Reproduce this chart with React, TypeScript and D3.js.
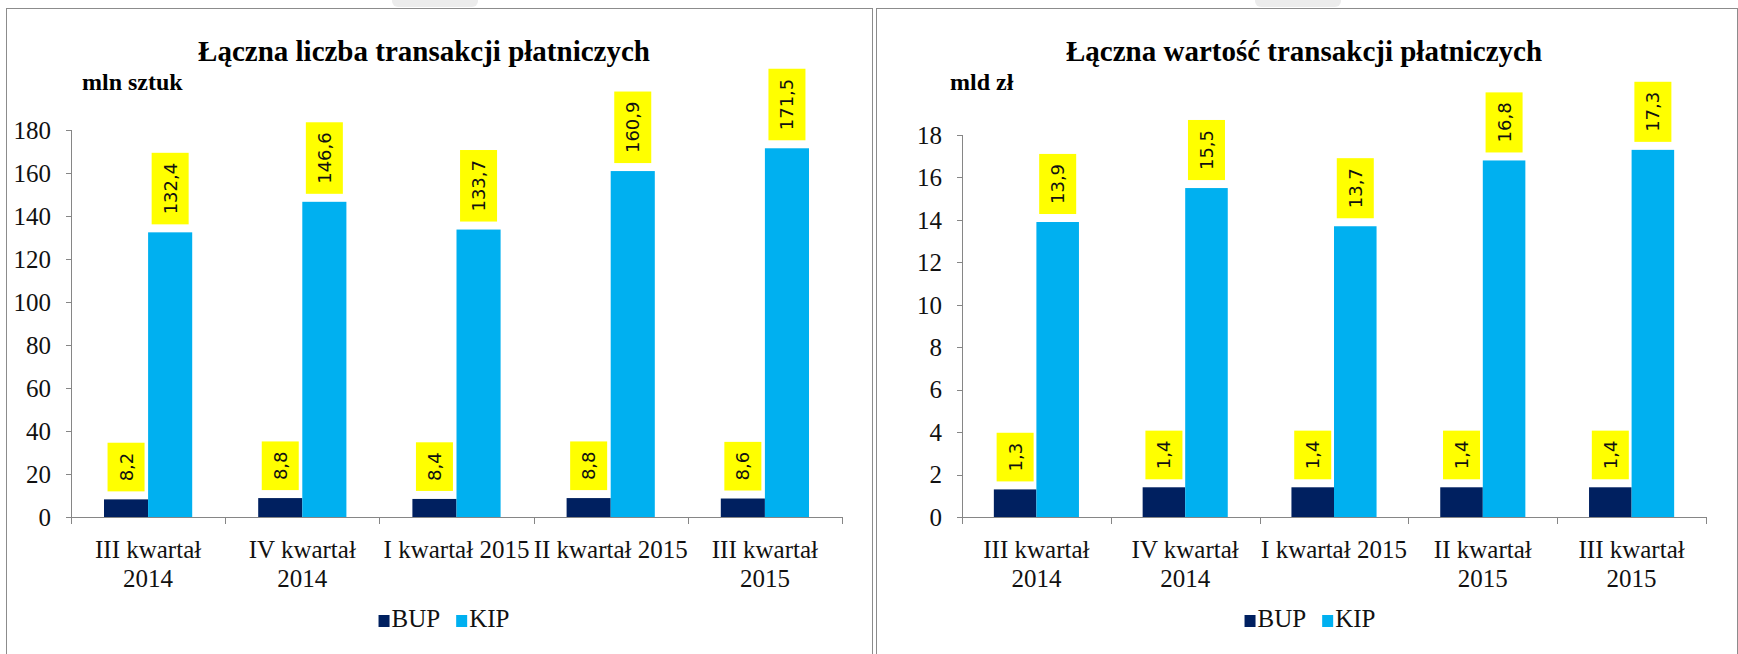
import React, { useRef, useEffect } from 'react'
import * as d3 from 'd3'

// categories and series
const quarters = ['III kwartał 2014', 'IV kwartał 2014', 'I kwartał 2015', 'II kwartał 2015', 'III kwartał 2015']
const seriesNames = ['BUP', 'KIP']
const seriesColors = ['#002060', '#00B0F0']

// left chart: number of transactions (mln sztuk)
const countBUP = [8.2, 8.8, 8.4, 8.8, 8.6]
const countKIP = [132.4, 146.6, 133.7, 160.9, 171.5]
const countTicks = [0, 20, 40, 60, 80, 100, 120, 140, 160, 180]

// right chart: value of transactions (mld zł)
const valueBUP = [1.3, 1.4, 1.4, 1.4, 1.4]
const valueKIP = [13.9, 15.5, 13.7, 16.8, 17.3]
const valueTicks = [0, 2, 4, 6, 8, 10, 12, 14, 16, 18]

const W = 1738
const H = 654
const serif = '"Liberation Serif", "Times New Roman", serif'
const labelFont = '"DejaVu Sans", sans-serif'

type ChartCfg = {
  title: string
  unit: string
  series: number[][]
  ticks: number[]
  box: [number, number, number] // left, top, right
  titleX: number
  unitX: number
  x0: number
  x1: number
  yTop: number
  legendX: number
}

const charts: ChartCfg[] = [
  {
    title: 'Łączna liczba transakcji płatniczych',
    unit: 'mln sztuk',
    series: [countBUP, countKIP],
    ticks: countTicks,
    box: [6.5, 8.5, 872.5],
    titleX: 424,
    unitX: 82,
    x0: 71,
    x1: 842,
    yTop: 130,
    legendX: 444,
  },
  {
    title: 'Łączna wartość transakcji płatniczych',
    unit: 'mld zł',
    series: [valueBUP, valueKIP],
    ticks: valueTicks,
    box: [876.5, 8.5, 1737.5],
    titleX: 1304,
    unitX: 950,
    x0: 962,
    x1: 1706,
    yTop: 135,
    legendX: 1310,
  },
]

const fmt = (v: number) => v.toFixed(1).replace('.', ',')

function drawChart(svg: d3.Selection<SVGSVGElement, unknown, null, undefined>, cfg: ChartCfg) {
  const yBase = 517
  const g = svg.append('g')

  //frame of the chart
  const [bl, bt, br] = cfg.box
  g.append('rect')
    .attr('x', bl)
    .attr('y', bt)
    .attr('width', br - bl)
    .attr('height', H + 10)
    .attr('fill', '#fff')
    .attr('stroke', '#8c8c8c')

  //title + unit
  g.append('text')
    .attr('x', cfg.titleX)
    .attr('y', 61)
    .attr('text-anchor', 'middle')
    .attr('font-family', serif)
    .attr('font-weight', 'bold')
    .attr('font-size', 29)
    .text(cfg.title)
  g.append('text')
    .attr('x', cfg.unitX)
    .attr('y', 90)
    .attr('font-family', serif)
    .attr('font-weight', 'bold')
    .attr('font-size', 24)
    .text(cfg.unit)

  //scales
  const maxTick = cfg.ticks[cfg.ticks.length - 1]
  const y = d3.scaleLinear().domain([0, maxTick]).range([yBase, cfg.yTop])
  const x = d3.scaleBand<string>().domain(quarters).range([cfg.x0, cfg.x1]).padding(0)
  const bw = x.bandwidth()
  const barW = bw * 0.286
  const xs = d3
    .scaleBand<string>()
    .domain(seriesNames)
    .range([bw / 2 - barW, bw / 2 + barW])

  //bars
  seriesNames.forEach((name, si) => {
    g.append('g')
      .selectAll('rect')
      .data(cfg.series[si])
      .join('rect')
      .attr('x', (d, i) => (x(quarters[i]) as number) + (xs(name) as number))
      .attr('y', (d) => y(d))
      .attr('width', xs.bandwidth())
      .attr('height', (d) => yBase - y(d))
      .attr('fill', seriesColors[si])
  })

  //y axis
  const axisColor = '#868686'
  g.append('line')
    .attr('x1', cfg.x0 + 0.5)
    .attr('x2', cfg.x0 + 0.5)
    .attr('y1', y(maxTick))
    .attr('y2', yBase)
    .attr('stroke', axisColor)
  const yt = g.append('g').selectAll('g').data(cfg.ticks).join('g')
  yt.append('line')
    .attr('x1', cfg.x0 - 5)
    .attr('x2', cfg.x0 + 0.5)
    .attr('y1', (d) => Math.round(y(d)) + 0.5)
    .attr('y2', (d) => Math.round(y(d)) + 0.5)
    .attr('stroke', axisColor)
  yt.append('text')
    .attr('x', cfg.x0 - 20)
    .attr('y', (d) => y(d))
    .attr('dy', '0.35em')
    .attr('text-anchor', 'end')
    .attr('font-family', serif)
    .attr('font-size', 25)
    .attr('fill', '#111')
    .text((d) => String(d))

  //x axis
  g.append('line')
    .attr('x1', cfg.x0)
    .attr('x2', cfg.x1)
    .attr('y1', yBase + 0.5)
    .attr('y2', yBase + 0.5)
    .attr('stroke', axisColor)
  const bounds = quarters.map((q) => x(q) as number).concat([cfg.x1])
  g.append('g')
    .selectAll('line')
    .data(bounds)
    .join('line')
    .attr('x1', (d) => Math.round(d) + 0.5)
    .attr('x2', (d) => Math.round(d) + 0.5)
    .attr('y1', yBase)
    .attr('y2', yBase + 7)
    .attr('stroke', axisColor)

  //category labels, wrapped when wider than the band
  quarters.forEach((q) => {
    const cx = (x(q) as number) + bw / 2
    const t = g
      .append('text')
      .attr('x', cx)
      .attr('y', yBase + 41)
      .attr('text-anchor', 'middle')
      .attr('font-family', serif)
      .attr('font-size', 25)
      .attr('fill', '#111')
      .text(q)
    const len = (t.node() as SVGTextElement).getComputedTextLength()
    if (len > bw + 3) {
      const cut = q.lastIndexOf(' ')
      t.text(null)
      t.append('tspan').attr('x', cx).text(q.slice(0, cut))
      t.append('tspan').attr('x', cx).attr('dy', 29).text(q.slice(cut + 1))
    }
  })

  //data labels: yellow boxes, rotated text
  seriesNames.forEach((name, si) => {
    cfg.series[si].forEach((v, i) => {
      const cx = (x(quarters[i]) as number) + (xs(name) as number) + xs.bandwidth() / 2
      const bottom = y(v) - 8
      const lg = g.append('g').attr('transform', `translate(${cx},${bottom}) rotate(-90)`)
      const box = lg.append('rect').attr('fill', '#FFFF00')
      const t = lg
        .append('text')
        .attr('font-family', labelFont)
        .attr('font-size', 18)
        .attr('fill', '#111')
        .attr('dy', '0.36em')
        .text(fmt(v))
      const len = (t.node() as SVGTextElement).getComputedTextLength()
      t.attr('x', 10)
      box.attr('x', 0).attr('y', -18.5).attr('width', len + 20).attr('height', 37)
    })
  })

  //legend
  const lg = g.append('g')
  let cx = 0
  seriesNames.forEach((name, si) => {
    lg.append('rect')
      .attr('x', cx)
      .attr('y', -12)
      .attr('width', 11)
      .attr('height', 12)
      .attr('fill', seriesColors[si])
    const t = lg
      .append('text')
      .attr('x', cx + 13)
      .attr('y', 0)
      .attr('font-family', serif)
      .attr('font-size', 25)
      .attr('fill', '#111')
      .text(name)
    cx += 13 + (t.node() as SVGTextElement).getComputedTextLength() + 16
  })
  const total = cx - 16
  lg.attr('transform', `translate(${cfg.legendX - total / 2},${yBase + 110})`)
}

function App() {
  const svgRef = useRef<SVGSVGElement>(null)

  useEffect(() => {
    document.body.style.margin = '0'
    const svg = d3.select(svgRef.current as SVGSVGElement)
    svg.selectAll('*').remove()
    svg.append('rect').attr('width', W).attr('height', H).attr('fill', '#fff')

    charts.forEach((c) => drawChart(svg, c))

    //faint grey marks on the top edge of the scan
    svg
      .append('g')
      .selectAll('rect')
      .data([392, 1255])
      .join('rect')
      .attr('x', (d) => d)
      .attr('y', -8)
      .attr('width', 86)
      .attr('height', 15)
      .attr('rx', 6)
      .attr('fill', '#ececec')
  }, [])

  return <svg ref={svgRef} width={W} height={H} style={{ display: 'block' }} />
}

export default App
